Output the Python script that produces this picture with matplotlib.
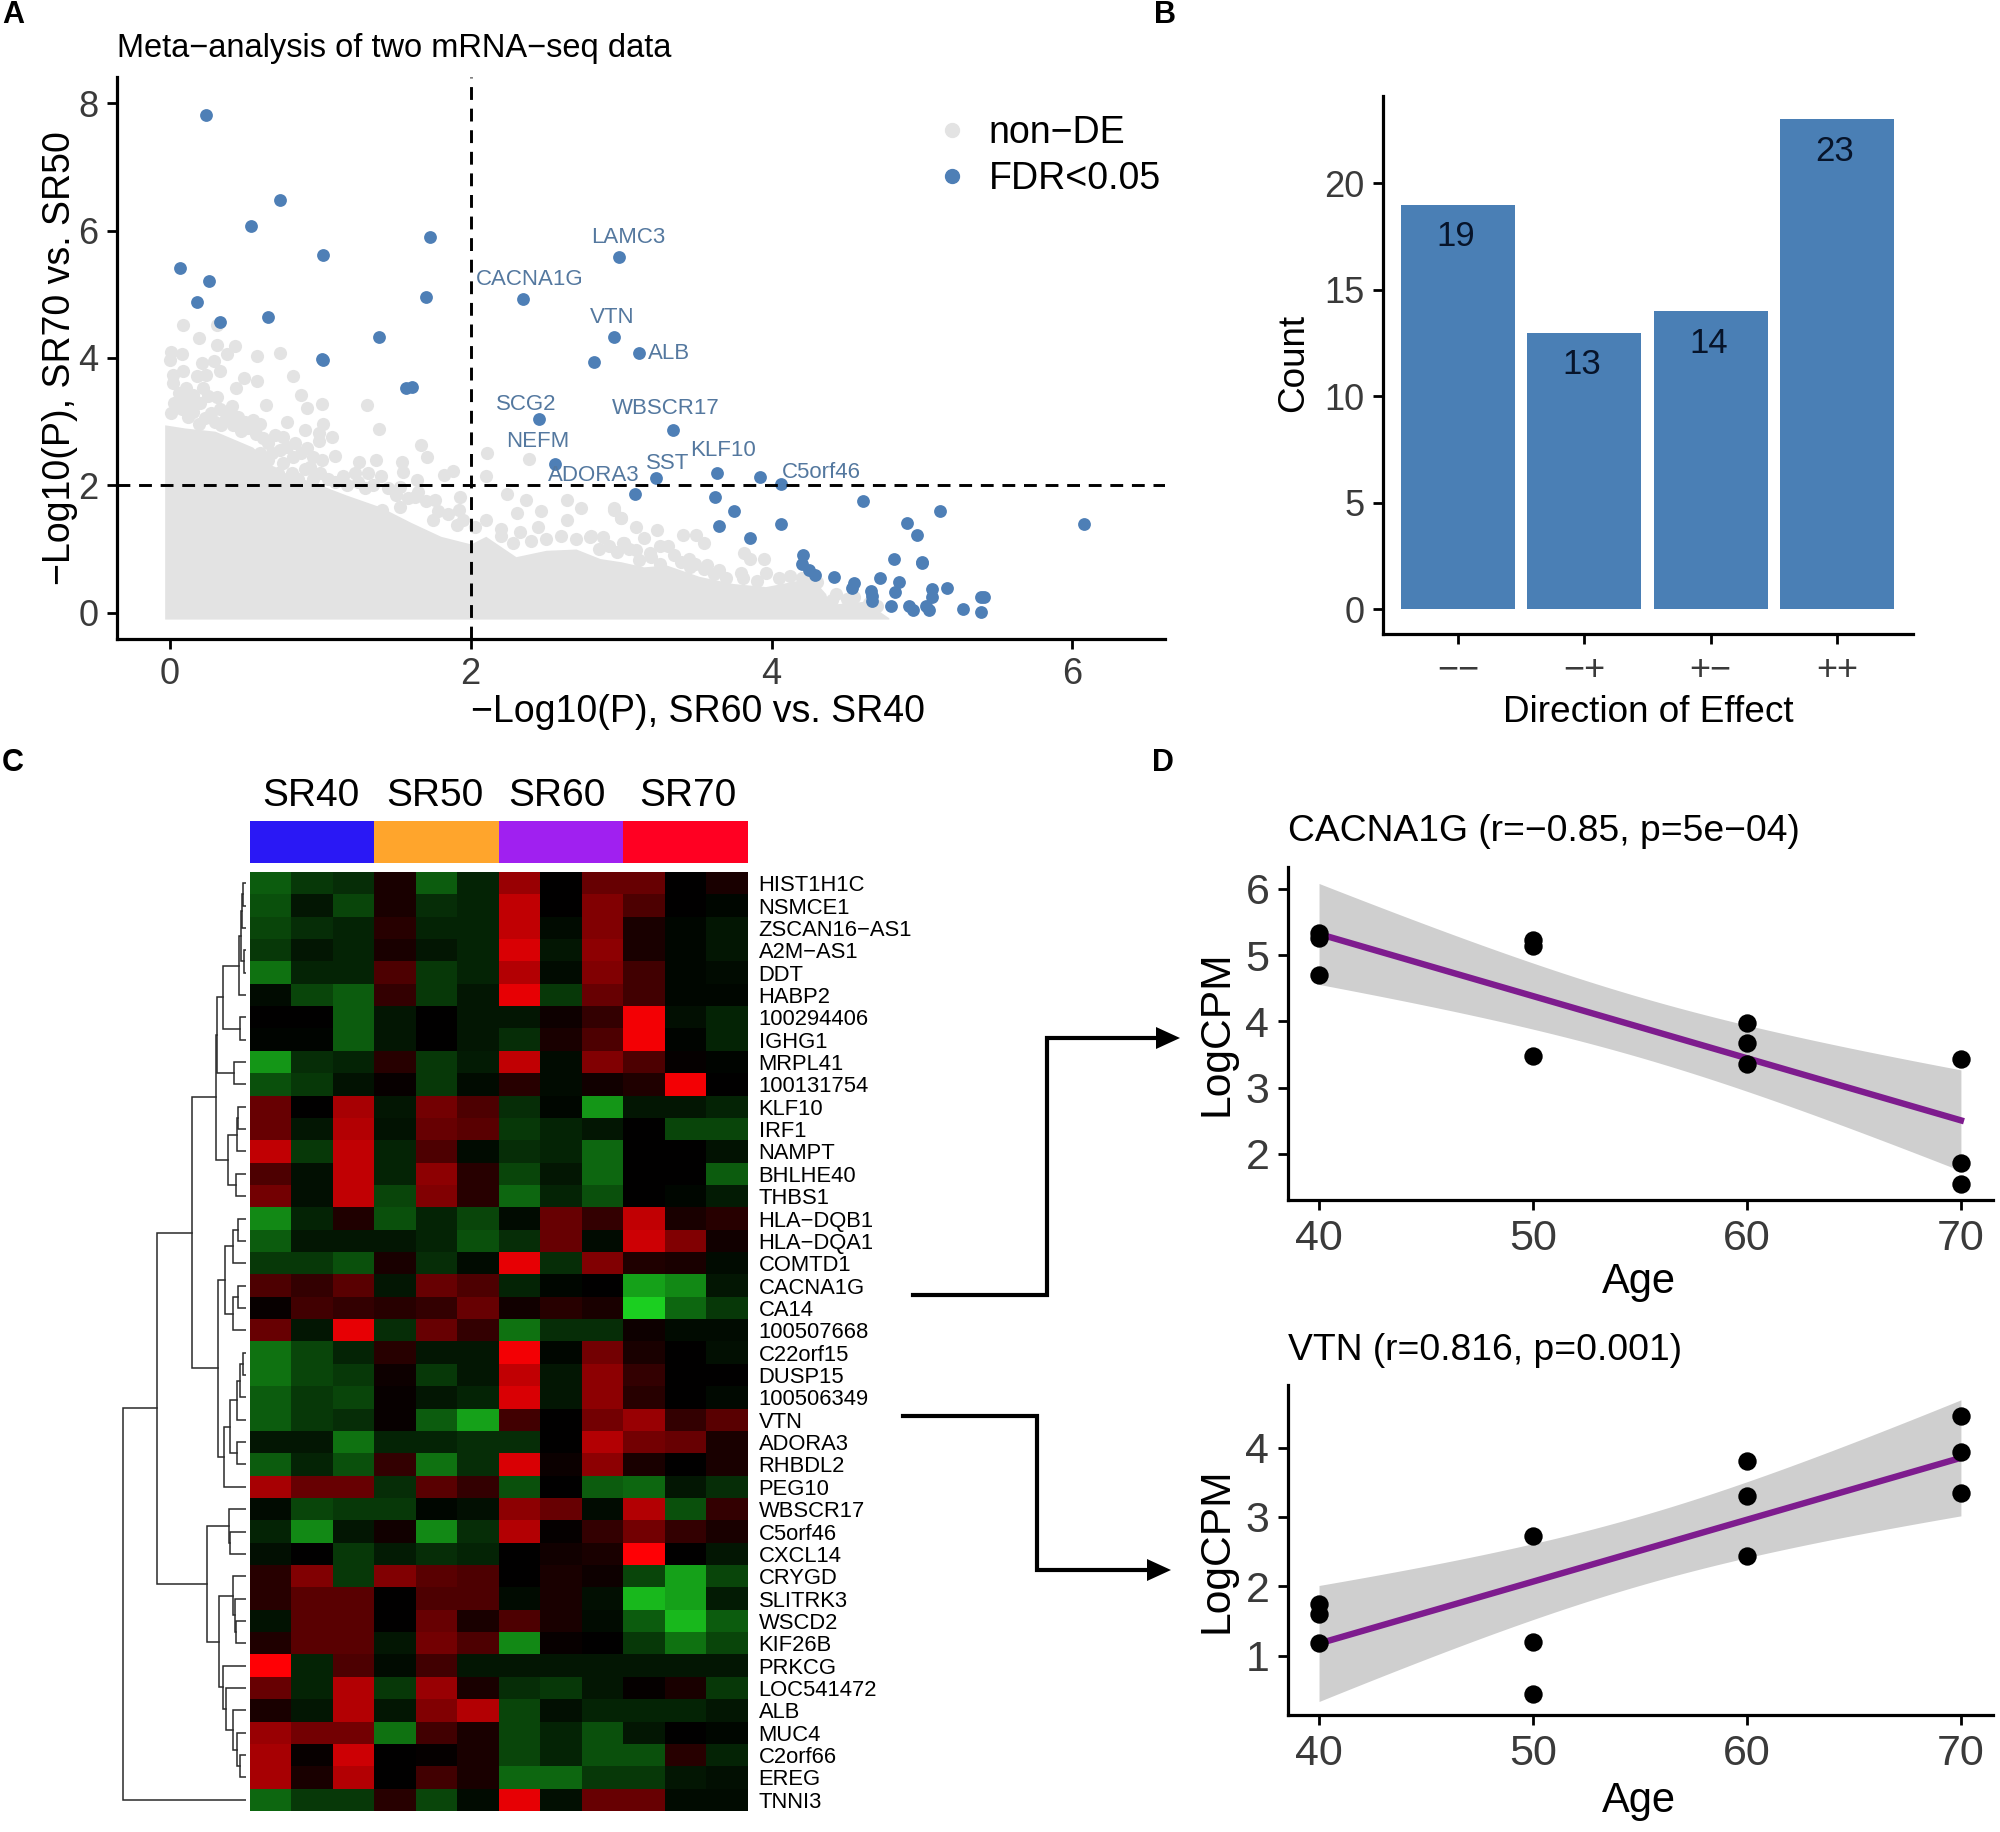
import numpy as np
import matplotlib
matplotlib.use("Agg")
import matplotlib.pyplot as plt
from matplotlib.colors import LinearSegmentedColormap, ListedColormap
from matplotlib.patches import Polygon
from matplotlib.lines import Line2D

plt.rcParams['font.family'] = ['Liberation Sans', 'DejaVu Sans']
W, H = 2000, 1832

# ---------- Panel A data ----------
blue_x = [.243,.73,.537,1.73,.066,.263,1.018,1.70,.177,.653,.334,1.39,1.01,1.02,1.57,1.61,2.987,2.35,2.95,3.12,2.82,
          2.456,3.347,2.557,3.64,3.92,4.06,3.235,3.09,3.625,4.61,3.75,5.12,3.65,4.06,4.90,4.97,6.08,3.86,4.815,5.0,5.0,
          4.21,4.2,4.25,4.29,4.415,4.55,4.535,4.72,4.85,4.82,4.66,4.67,4.665,5.07,5.07,5.165,4.795,4.915,4.94,5.03,5.05,
          5.275,5.39,5.41,5.39]
blue_y = [7.81,6.48,6.07,5.9,5.41,5.21,5.61,4.96,4.87,4.65,4.56,4.33,3.98,3.96,3.53,3.55,5.58,4.93,4.33,4.08,3.94,
          3.04,2.87,2.34,2.19,2.13,2.02,2.11,1.87,1.82,1.75,1.6,1.6,1.36,1.40,1.41,1.22,1.385,1.17,.845,.79,.78,
          .90,.76,.67,.59,.555,.46,.39,.55,.48,.33,.34,.27,.19,.38,.25,.385,.10,.10,.045,.11,.045,
          .065,.24,.24,.01]
gray_x = [.09,.31,.19,.31,.43,.38,.58,.73,.01,.08,0,.21,.29,.33,.09,.02,.02,.18,.24,.49,.58,.82,.44,.22,.11,.87,.31,.10,
          .13,.64,.41,1.01,.91,1.31,.01,.12,.27,.45,.55,.60,.78,1.02,.34,.19,.99,.90,1.39,1.08,.70,.75,.65,.83,.91,.99,
          1.67,1.71,1.10,2.11,2.39,1.26,1.37,1.54,1.01,1.55,.93,1.88,1.82,1.64,2.10,1.40,1.32,1.23,1.15,.81,.67,
          2.24,2.37,2.31,2.47,2.64,2.73,2.64,2.45,2.33,2.95,3.0,1.93,1.76,1.92,1.75,1.91,1.41,1.53,1.63,1.53,2.2,2.79,3.02,
          2.95,3.0,3.10,3.24,3.41,3.50,3.55,2.88,3.01,3.15,3.26,3.31,3.19,3.26,3.49,3.57,3.65,3.82,3.95,3.96,3.81,4.43,3.12,3.86,3.46,
          .03,.06,.15,.2,.25,.33,.37,.4,.5,.52,.08,.15,.23,.3,.42,.47,.57,.62,.68,.73,.78,.82,.87,.95,.75,.6,.65,.9,.72,.85,.95,
          1.0,1.05,1.1,1.18,1.25,1.3,1.35,1.45,1.5,1.58,1.65,1.7,1.78,1.85,1.95,2.03,2.1,2.2,2.28,2.4,2.5,2.6,2.7,2.8,2.85,2.92,
          2.97,3.05,3.1,3.2,3.35,3.4,3.45,3.55,3.62,3.7,3.8,3.9,4.05,4.12,4.2,4.25,4.3,4.4,4.5,4.55,4.65,4.7]
gray_y = [4.51,4.52,4.31,4.20,4.19,4.06,4.03,4.07,4.10,4.06,3.97,3.92,3.95,3.79,3.79,3.73,3.60,3.71,3.73,3.69,3.64,3.72,3.52,3.52,3.52,3.42,3.39,3.37,
          3.29,3.26,3.24,3.28,3.21,3.26,3.13,3.08,3.13,3.08,3.03,2.97,3.0,2.97,2.95,2.97,2.82,2.87,2.88,2.76,2.79,2.76,2.67,2.66,2.58,2.69,
          2.63,2.45,2.46,2.50,2.41,2.37,2.40,2.36,2.39,2.21,2.29,2.23,2.16,2.08,2.14,2.14,2.20,2.20,2.14,2.19,2.21,
          1.87,1.77,1.56,1.59,1.77,1.64,1.46,1.35,1.27,1.61,1.48,1.82,1.77,1.61,1.46,1.38,1.61,1.66,1.82,1.98,1.32,1.19,1.09,
          1.64,1.48,1.35,1.30,1.22,1.22,1.09,1.19,1.09,1.17,1.04,1.04,.93,.77,.77,.75,.67,.93,.85,.62,.54,.30,.83,.85,.72,
          3.3,3.45,3.42,3.3,3.4,3.2,3.05,3.15,3.0,2.9,3.2,3.15,3.05,3.0,2.95,2.85,2.8,2.75,2.5,2.55,2.6,2.45,2.5,2.45,2.35,2.5,2.4,2.25,2.2,2.1,2.1,
          2.2,2.1,2.05,2.0,2.05,1.95,2.0,1.95,1.85,1.8,1.9,1.75,1.6,1.55,1.45,1.35,1.45,1.2,1.1,1.12,1.15,1.2,1.15,1.2,1.0,1.05,
          .95,1.0,.98,.88,.9,.8,.85,.68,.6,.55,.62,.5,.55,.58,.55,.5,.48,.2,.22,.25,.15,.1]
# envelope of the solid grey mass
mass_x = [-.035,.1,.3,.55,.7,.95,1.17,1.4,1.6,1.8,2.0,2.1,2.3,2.5,2.7,2.86,3.0,3.15,3.3,3.52,3.74,3.96,4.18,4.3,4.36,4.38,4.62,4.78]
mass_y = [2.95,2.9,2.85,2.6,2.25,2.05,1.85,1.66,1.42,1.2,1.08,1.2,.88,.98,1.0,.85,.8,.72,.75,.57,.46,.41,.51,.46,.3,.13,.18,-.08]
mass_bottom = -.1

gene_labels = ['LAMC3','CACNA1G','VTN','ALB','SCG2','WBSCR17','NEFM','ADORA3','SST','KLF10','C5orf46']
gene_x = [3.05,2.39,2.94,3.32,2.37,3.30,2.445,2.82,3.31,3.68,4.33]
gene_y = [5.89,5.23,4.63,4.07,3.27,3.21,2.69,2.16,2.335,2.55,2.20]

# ---------- Panel B data ----------
direction = ['\u2212\u2212','\u2212+','+\u2212','++']
counts = [19,13,14,23]

# ---------- Panel C data ----------
groups = ['SR40','SR50','SR60','SR70']
group_colors = ['#2A18F5','#FFA52C','#A020F0','#FF0022']
row_labels = ['HIST1H1C','NSMCE1','ZSCAN16\u2212AS1','A2M\u2212AS1','DDT','HABP2','100294406','IGHG1','MRPL41','100131754',
 'KLF10','IRF1','NAMPT','BHLHE40','THBS1','HLA\u2212DQB1','HLA\u2212DQA1','COMTD1','CACNA1G','CA14','100507668',
 'C22orf15','DUSP15','100506349','VTN','ADORA3','RHBDL2','PEG10','WBSCR17','C5orf46','CXCL14','CRYGD','SLITRK3',
 'WSCD2','KIF26B','PRKCG','LOC541472','ALB','MUC4','C2orf66','EREG','TNNI3']
heat = [
[-4,-2.5,-2,1,-4,-1.5,6,0,4,4,0,1],
[-3.5,-1,-3,1,-2,-1.5,7.5,0,5,3,0,-.3],
[-3,-2,-1.5,1.5,-1.5,-1.5,7.5,-.5,5,1,-.3,-1],
[-2.5,-1,-1.5,1,-1,-1.5,8.5,-1,5.5,1,-.3,-1],
[-5,-1.5,-1.5,3,-2.5,-1.5,7,-.5,5,2.5,-.3,-.5],
[-.5,-3,-4,2,-2.5,-1,9,-2.5,4,2.5,-.3,-.3],
[0,0,-4,-1,0,-1,-1,.5,2,9.5,-.7,-1.5],
[-.2,-.2,-4,-1,0,-1,-2,1,3,9.5,-.2,-1.5],
[-6.5,-2,-1.5,1.5,-2.5,-1.2,7.5,-.5,5,3,.2,-.2],
[-3.5,-2.5,-.8,.3,-2.5,-.5,1.5,-.5,.7,1.2,9.5,0],
[4,0,6.5,-1,4.5,3,-2,-.3,-6.5,-1,-1,-1.5],
[4,-1,7,-.8,4,3.5,-2.5,-1.5,-1,0,-3,-3],
[7.5,-2.5,7.5,-1.5,3,-.5,-2,-1.5,-4.5,0,0,-.8],
[3,-.7,7.5,-1.5,5.5,1.5,-3,-1,-4.5,0,0,-4],
[4.5,-.7,7.5,-3,5,1.5,-4.5,-1.5,-3.5,0,-.3,-1.2],
[-6,-1.5,1.2,-3.5,-1.5,-3,-.5,4,2,7.5,1,1.5],
[-4,-1,-1,-1,-1.5,-3.5,-2,4,-.5,8,5,.7],
[-2.5,-2.5,-3.5,1,-2,-.5,9,-2,5,1.2,1,-.5],
[3,2,3.5,-1,4,3,-1.5,-.3,0,-7,-6,-1],
[.3,2.5,2,1.5,2,4,.7,1.5,1,-9,-4.5,-2.5],
[4,-1,9,-2,4,2,-5,-2,-2,.5,-.5,-.5],
[-5,-3,-1.5,1.5,-1,-1,9.5,-.3,4.5,1,0,-.7],
[-5,-3,-2.5,.5,-2.5,-1,7.5,-1,5.5,2,0,0],
[-4,-2.5,-3,.3,-1,-1.5,8.5,-1,5.5,1.5,0,-.4],
[-4,-2.5,-2,.3,-4,-7,2.5,0,4.5,6,2,3.5],
[-1,-1,-5,-1.5,-1.5,-2,-2,0,7,4.5,4,1],
[-4,-1.5,-3.5,2,-5,-2,8.5,.4,5.5,1,0,1],
[6.5,4,4,-2,3.5,2,-3.5,0,-4,-4.5,-1,-2],
[-.5,-3,-2.5,-2.5,-.3,-.7,5.5,4,-.5,7,-3.5,2],
[-1.5,-6,-1,.7,-6,-2,7,.2,2,4.5,2,1],
[-.7,0,-2.5,-1.2,-2,-1.5,0,.7,1,10,0,-1],
[1.5,5,-2.5,5,3.5,3,0,1,.5,-3,-7,-3],
[1.5,3.5,3.5,0,3,3,-.5,1,-.7,-8,-7,-1.2],
[-.8,3.5,3.5,0,4,1,3,1,-.5,-4,-8,-4],
[1.2,3.5,3.5,-1,4.5,3,-6,.3,0,-2.5,-5,-3],
[10,-1.5,3,-.5,2.5,-1,-1,-1,-1,-1,-1,-1],
[4,-1.5,7,-2.5,6,1,-2,-2.5,-1,.2,1,-2.5],
[1,-1,7,-1,5,7,-3,-.7,-1.5,-1.5,-1.5,-1],
[6,4.5,4.5,-5,2.5,1,-3,-1.5,-3.5,-1,0,-.3],
[6.5,.3,8,0,.2,1,-3,-1.5,-3.5,-3.5,1.5,-1.5],
[6.5,1,7,0,2.5,1,-4.5,-4.5,-2.5,-2.5,-1,-.7],
[-4.5,-2.5,-2.5,1.5,-3,-.5,9,-.7,4,4,-.5,-.5],
]
R = row_labels
tree = (130,
  (232,
    (337,
      (407,
        (410,
          (430,
            (477,(483,(487,(490,R[0],R[1]),R[2]),(492,R[3],R[4])),R[5]),
            (480,R[6],R[7])),
          (462,R[8],R[9])),
        (445,(470,(475,R[10],R[11]),R[12]),(467,R[13],R[14]))),
      (413,
        (435,(458,(473,R[15],R[16]),R[17]),(458,(475,R[18],R[19]),R[20])),
        (432,(450,(470,(480,(490,R[21],R[22]),R[23]),R[24]),(470,R[25],R[26])),R[27]))),
    (380,
      (448,R[28],(450,R[29],R[30])),
      (418,
        (460,R[31],(465,R[32],(467,R[33],R[34]))),
        (428,R[35],(437,R[36],(458,R[37],(472,R[38],(480,R[39],R[40]))))))),
  ),
  R[41])

# ---------- Panel D data ----------
ages = [40,40,40,50,50,50,60,60,60,70,70,70]
cacna1g = [5.33,5.25,4.70,5.22,5.13,3.47,3.98,3.67,3.35,3.43,1.87,1.55]
vtn = [1.75,1.60,1.18,2.72,1.20,0.44,3.80,3.30,2.44,4.45,3.93,3.35]

# ---------- helpers ----------
fig = plt.figure(figsize=(W/100, H/100), dpi=100)

def axpx(l, t, r, b):
    return fig.add_axes([l/W, 1-b/H, (r-l)/W, (b-t)/H])

def style(ax, tick=26, lw=2.3):
    for s in ['top','right']:
        ax.spines[s].set_visible(False)
    for s in ['left','bottom']:
        ax.spines[s].set_linewidth(lw)
        ax.spines[s].set_color('black')
    ax.tick_params(length=7.5, width=2, labelsize=tick, labelcolor='#3A3A3A', pad=6)

def xlab(ax, text, cx, cy, size):
    ax.set_xlabel(text, fontsize=size, va='center', ha='center')
    ax.xaxis.set_label_coords(cx/W, 1-(cy+3)/H, transform=fig.transFigure)

def ylab(ax, text, cx, cy, size):
    ax.set_ylabel(text, fontsize=size, va='center', ha='center')
    ax.yaxis.set_label_coords(cx/W, 1-cy/H, transform=fig.transFigure)

def ptext(x, y, s, **kw):
    kw.setdefault('ha', 'center'); kw.setdefault('va', 'center')
    fig.text(x/W, 1-(y+3)/H, s, **kw)

# ---------- A ----------
axA = axpx(117, 77, 1165, 638.7)
style(axA)
axA.set_xlim(-.352, 6.616); axA.set_ylim(-.408, 8.41)
GREY, BLUE = '#E3E3E3', '#4E7FB6'
axA.fill_between(mass_x, mass_bottom, mass_y, color=GREY, lw=0, zorder=1)
axA.scatter(gray_x, gray_y, s=90, color=GREY, lw=0, zorder=1.1)
axA.scatter(blue_x, blue_y, s=85, color=BLUE, lw=0, zorder=2)
axA.axvline(2, color='black', lw=2.1, ls=(0,(4.4,3)), zorder=3)
axA.axhline(2, color='black', lw=2.1, ls=(0,(4.4,3)), zorder=3)
for t, x, y in zip(gene_labels, gene_x, gene_y):
    axA.text(x, y, t, color='#54789F', fontsize=16, ha='center', va='center', zorder=4)
axA.set_xticks([0,2,4,6]); axA.set_yticks([0,2,4,6,8])
xlab(axA, '\u2212Log10(P), SR60 vs. SR40', 698, 709, 27)
ylab(axA, '\u2212Log10(P), SR70 vs. SR50', 60, 358, 27)
ptext(117, 45, 'Meta\u2212analysis of two mRNA\u2212seq data', fontsize=23.5, ha='left')
hd = [Line2D([],[],marker='o',ls='',color=GREY,ms=10,label='non\u2212DE'),
      Line2D([],[],marker='o',ls='',color=BLUE,ms=10,label='FDR<0.05')]
axA.legend(handles=hd, frameon=False, fontsize=27, loc='upper left',
           bbox_to_anchor=(933/W, 1-115/H), bbox_transform=fig.transFigure,
           handlelength=1, handletextpad=.49, labelspacing=.26, borderpad=0, borderaxespad=0)

# ---------- B ----------
axB = axpx(1383, 96, 1913, 634)
style(axB)
pos = np.arange(1, 5)
axB.bar(pos, counts, width=.9, color='#4A7FB5', lw=0)
for p, c in zip(pos, counts):
    axB.text(p-.02, c-1.5, str(c), ha='center', va='center', fontsize=25, color='#07142A')
axB.set_xlim(.407, 4.6); axB.set_ylim(-1.15, 24.1)
axB.set_xticks(pos); axB.set_xticklabels(direction)
axB.set_yticks([0,5,10,15,20])
xlab(axB, 'Direction of Effect', 1648, 710, 26.6)
ylab(axB, 'Count', 1294, 363, 26.6)

# ---------- C ----------
cmap = LinearSegmentedColormap.from_list('gbr', [(0.12,0.9,0.14),(0,0,0),(1,0,0.02)])
axC = axpx(249.5, 872, 747.5, 1811)
axC.imshow(np.array(heat)/10.0, cmap=cmap, vmin=-1, vmax=1, aspect='auto', interpolation='nearest')
axC.set_xticks([])
axC.yaxis.tick_right()
axC.set_yticks(range(len(row_labels))); axC.set_yticklabels(row_labels, fontsize=15.8)
axC.tick_params(axis='y', length=0, pad=8)
for s in axC.spines.values():
    s.set_visible(False)

axBar = axpx(249.5, 821, 747.5, 863.5)
axBar.imshow(np.arange(4)[None,:], cmap=ListedColormap(group_colors), aspect='auto', interpolation='nearest')
axBar.axis('off')
for g, cx in zip(groups, [311, 435, 557, 688]):
    ptext(cx, 793, g, fontsize=28)

axD = axpx(80, 872, 246, 1811)
axD.set_xlim(0, 498); axD.set_ylim(len(row_labels), 0)
axD.axis('off')
def draw(node):
    if isinstance(node, str):
        return 498, row_labels.index(node)+.5
    h, a, b = node
    xa, ya = draw(a); xb, yb = draw(b)
    axD.plot([xa, h, h, xb], [ya, ya, yb, yb], color='#2A2A2A', lw=1.1, solid_joinstyle='miter')
    return h, (ya+yb)/2
draw(tree)

# ---------- D ----------
def regress(ax, x, y):
    x = np.array(x, float); y = np.array(y, float)
    b, a = np.polyfit(x, y, 1)
    gx = np.linspace(40, 70, 80)
    fit = a + b*gx
    res = y - (a + b*x)
    n = len(x); s = np.sqrt((res**2).sum()/(n-2))
    se = s*np.sqrt(1/n + (gx-x.mean())**2/((x-x.mean())**2).sum())
    ax.fill_between(gx, fit-2.228*se, fit+2.228*se, color='#CFCFCF', lw=0, zorder=1)
    ax.plot(gx, fit, color='#7E1C8E', lw=4.6, zorder=2)
    ax.scatter(x, y, s=175, color='black', lw=0, zorder=3)

axE = axpx(1288, 867.5, 1993, 1200)
style(axE, tick=31)
regress(axE, ages, cacna1g)
axE.set_xlim(38.55, 71.5); axE.set_ylim(1.306, 6.32)
axE.set_xticks([40,50,60,70]); axE.set_yticks([2,3,4,5,6])
xlab(axE, 'Age', 1639, 1279, 30); ylab(axE, 'LogCPM', 1216, 1033, 30.7)
ptext(1288, 829, 'CACNA1G (r=\u22120.85, p=5e\u221204)', fontsize=26.8, ha='left')

axF = axpx(1288, 1385, 1993, 1715)
style(axF, tick=31)
regress(axF, ages, vtn)
axF.set_xlim(38.55, 71.5); axF.set_ylim(.143, 4.903)
axF.set_xticks([40,50,60,70]); axF.set_yticks([1,2,3,4])
xlab(axF, 'Age', 1639, 1798, 30); ylab(axF, 'LogCPM', 1216, 1550, 30.7)
ptext(1288, 1347, 'VTN (r=0.816, p=0.001)', fontsize=26.8, ha='left')

# ---------- overlay: arrows and panel letters ----------
ov = fig.add_axes([0,0,1,1], facecolor='none')
ov.set_xlim(0, W); ov.set_ylim(H, 0); ov.axis('off')
for (x0,y0,xm,y1,xt) in [(913,1295,1047,1038,1180),(903,1416,1037,1570,1171)]:
    ov.plot([x0,xm,xm,xt-20],[y0,y0,y1,y1], color='black', lw=3, solid_joinstyle='miter')
    ov.add_patch(Polygon([[xt,y1],[xt-24,y1-11],[xt-24,y1+11]], closed=True, color='black', lw=0))
for s,x,y in [('A',13,12),('B',1165,12),('C',13,760),('D',1163,760)]:
    ptext(x, y, s, fontsize=22, fontweight='bold')

fig.savefig('out.png', dpi=100, facecolor='white')
